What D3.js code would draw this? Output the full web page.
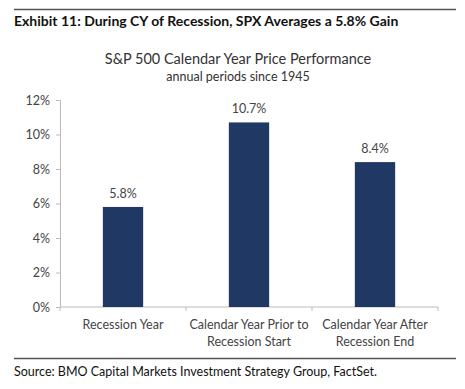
<!DOCTYPE html>
<html>
<head>
<meta charset="utf-8">
<script src="https://cdn.jsdelivr.net/npm/d3@7"></script>
<style>
body { margin: 0; background: #fff; }
svg { font-family: Lato, "Open Sans", sans-serif; }
</style>
</head>
<body>
<div id="chart"></div>
<script>
var categories = [["Recession Year"], ["Calendar Year Prior to", "Recession Start"], ["Calendar Year After", "Recession End"]];
var values = [5.8, 10.7, 8.4];
var yTicks = [0, 2, 4, 6, 8, 10, 12];

var W = 465, H = 389;
var margin = {top: 100, right: 27, bottom: 82, left: 60},
    width = W - margin.left - margin.right,
    height = H - margin.top - margin.bottom;

var svg = d3.select('#chart').append('svg')
    .attr('width', W)
    .attr('height', H);

// frame lines + header/footer
svg.append('line').attr('x1', 14).attr('x2', 456).attr('y1', 9.5).attr('y2', 9.5)
    .attr('stroke', '#555').attr('stroke-width', 1.5);
svg.append('line').attr('x1', 14).attr('x2', 456).attr('y1', 358.5).attr('y2', 358.5)
    .attr('stroke', '#555').attr('stroke-width', 1.5);

svg.append('text').attr('x', 14).attr('y', 26)
    .style('font-size', '14px').style('font-weight', 'bold').attr('fill', '#111')
    .text('Exhibit 11: During CY of Recession, SPX Averages a 5.8% Gain');

svg.append('text').attr('x', 238).attr('y', 64).attr('text-anchor', 'middle')
    .style('font-size', '14.5px').attr('fill', '#333')
    .text('S&P 500 Calendar Year Price Performance');
svg.append('text').attr('x', 238).attr('y', 81).attr('text-anchor', 'middle')
    .style('font-size', '12.5px').attr('fill', '#333')
    .text('annual periods since 1945');

svg.append('text').attr('x', 14).attr('y', 376)
    .style('font-size', '12.5px').attr('fill', '#111')
    .text('Source: BMO Capital Markets Investment Strategy Group, FactSet.');

var g = svg.append('g')
    .attr('transform', 'translate(' + margin.left + ',' + margin.top + ')');

var x = d3.scaleBand()
    .domain(d3.range(values.length))
    .range([0, width])
    .paddingInner(0.68)
    .paddingOuter(0.34);

var y = d3.scaleLinear()
    .domain([0, 12])
    .range([height, 0]);

// y axis
var yAxis = g.append('g')
    .call(d3.axisLeft(y).tickValues(yTicks).tickSize(4).tickPadding(6)
        .tickFormat(function (d) { return d + '%'; }));
yAxis.selectAll('path, line').attr('stroke', '#bbb');
yAxis.selectAll('text').style('font-size', '12.5px').attr('fill', '#444').style('font-family', 'Lato, sans-serif');

// x axis with ticks between bands
var xAxis = g.append('g').attr('transform', 'translate(0,' + height + ')');
xAxis.append('line').attr('x1', 0).attr('x2', width).attr('stroke', '#bbb');
xAxis.selectAll('line.tk')
    .data(d3.range(values.length + 1))
    .enter().append('line')
    .attr('class', 'tk')
    .attr('x1', function (d) { return d * width / values.length; })
    .attr('x2', function (d) { return d * width / values.length; })
    .attr('y1', 0).attr('y2', 4)
    .attr('stroke', '#bbb');

var lbl = xAxis.selectAll('text.cat')
    .data(categories)
    .enter().append('text')
    .attr('class', 'cat')
    .attr('text-anchor', 'middle')
    .attr('x', function (d, i) { return x(i) + x.bandwidth() / 2; })
    .attr('y', 22)
    .style('font-size', '12.5px')
    .attr('fill', '#444');
lbl.selectAll('tspan')
    .data(function (d) { return d; })
    .enter().append('tspan')
    .attr('x', function () { return d3.select(this.parentNode).attr('x'); })
    .attr('dy', function (d, i) { return i ? 17 : 0; })
    .text(function (d) { return d; });

// bars
g.selectAll('rect.bar')
    .data(values)
    .enter().append('rect')
    .attr('class', 'bar')
    .attr('x', function (d, i) { return x(i); })
    .attr('y', function (d) { return y(d); })
    .attr('width', x.bandwidth())
    .attr('height', function (d) { return height - y(d); })
    .attr('fill', '#1f3864');

g.selectAll('text.val')
    .data(values)
    .enter().append('text')
    .attr('class', 'val')
    .attr('text-anchor', 'middle')
    .attr('x', function (d, i) { return x(i) + x.bandwidth() / 2; })
    .attr('y', function (d) { return y(d) - 9; })
    .style('font-size', '12.5px')
    .attr('fill', '#444')
    .text(function (d) { return d.toFixed(1) + '%'; });
</script>
</body>
</html>
